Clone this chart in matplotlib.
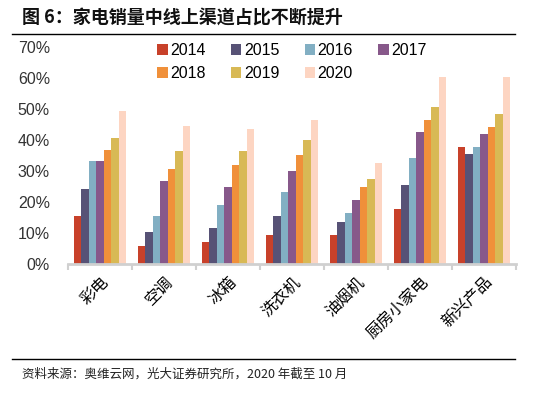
import matplotlib.pyplot as plt
import numpy as np

plt.rcParams['font.family'] = ['Noto Sans CJK SC', 'DejaVu Sans']
num_font = ['Liberation Sans', 'DejaVu Sans']

categories = ['彩电', '空调', '冰箱', '洗衣机', '油烟机', '厨房小家电', '新兴产品']
years = ['2014', '2015', '2016', '2017', '2018', '2019', '2020']
share = {
    '2014': [15.5, 5.8, 7.1, 9.2, 9.2, 17.7, 37.9],
    '2015': [24.1, 10.2, 11.7, 15.5, 13.4, 25.4, 35.4],
    '2016': [33.1, 15.5, 19.0, 23.1, 16.5, 34.2, 37.9],
    '2017': [33.1, 26.8, 25.0, 30.0, 20.8, 42.6, 42.0],
    '2018': [36.9, 30.6, 31.9, 35.1, 24.8, 46.5, 44.2],
    '2019': [40.7, 36.6, 36.3, 40.1, 27.5, 50.5, 48.5],
    '2020': [49.2, 44.4, 43.5, 46.4, 32.6, 60.2, 60.2],
}
colors = ['#C8412A', '#575276', '#82AFC3', '#87588A', '#F0903A', '#D8B955', '#FDD5C2']

fig = plt.figure(figsize=(5.4, 3.94), dpi=100, facecolor='white')
ax = fig.add_axes([68 / 540, 1 - 264 / 394, 448 / 540, 217 / 394])

x = np.arange(len(categories))
w = 0.116
bars = []
for i, yr in enumerate(years):
    b = ax.bar(x + (i - 3) * w, share[yr], width=w, color=colors[i], label=yr, linewidth=0)
    bars.append(b)

ax.set_xlim(-0.5, len(categories) - 0.5)
ax.set_ylim(0, 70)
ax.set_yticks(range(0, 71, 10))
ax.set_yticklabels([f'{v}%' for v in range(0, 71, 10)], fontsize=11.5, color='#333333',
                   family=num_font)
ax.tick_params(axis='y', length=0, pad=13)

ax.set_xticks(x)
ax.set_xticklabels(categories, rotation=45, ha='right', rotation_mode='anchor', fontsize=11.5)
ax.tick_params(axis='x', length=0, pad=7)
ax.set_xticks(np.arange(-0.5, len(categories)), minor=True)
ax.tick_params(axis='x', which='minor', length=4, color='#D0D0D0', width=1.5, direction='out')

for s in ['top', 'right', 'left']:
    ax.spines[s].set_visible(False)
ax.spines['bottom'].set_color('#D0D0D0')
ax.spines['bottom'].set_linewidth(2)

# row-major legend order
order = [0, 4, 1, 5, 2, 6, 3]
leg = ax.legend([bars[k] for k in order], [years[k] for k in order],
                ncol=4, loc='upper left', bbox_to_anchor=(0.167, 1.085), frameon=False,
                prop={'family': num_font, 'size': 11.5}, handlelength=0.65, handleheight=0.65,
                handletextpad=0.15, columnspacing=1.6, labelspacing=0.5)

fig.text(22 / 540, 1 - 18 / 394, '图 6：家电销量中线上渠道占比不断提升', fontsize=13,
         fontweight='bold', va='center', ha='left', color='#111111')
fig.add_artist(plt.Line2D([12 / 540, 515 / 540], [1 - 34 / 394, 1 - 34 / 394], color='black', lw=1))
fig.add_artist(plt.Line2D([12 / 540, 515 / 540], [1 - 359 / 394, 1 - 359 / 394], color='black', lw=1))
fig.text(22 / 540, 1 - 374 / 394, '资料来源：奥维云网，光大证券研究所，2020 年截至 10 月', fontsize=9,
         va='center', ha='left', color='#222222')

fig.savefig('out.png', dpi=100, facecolor='white')
